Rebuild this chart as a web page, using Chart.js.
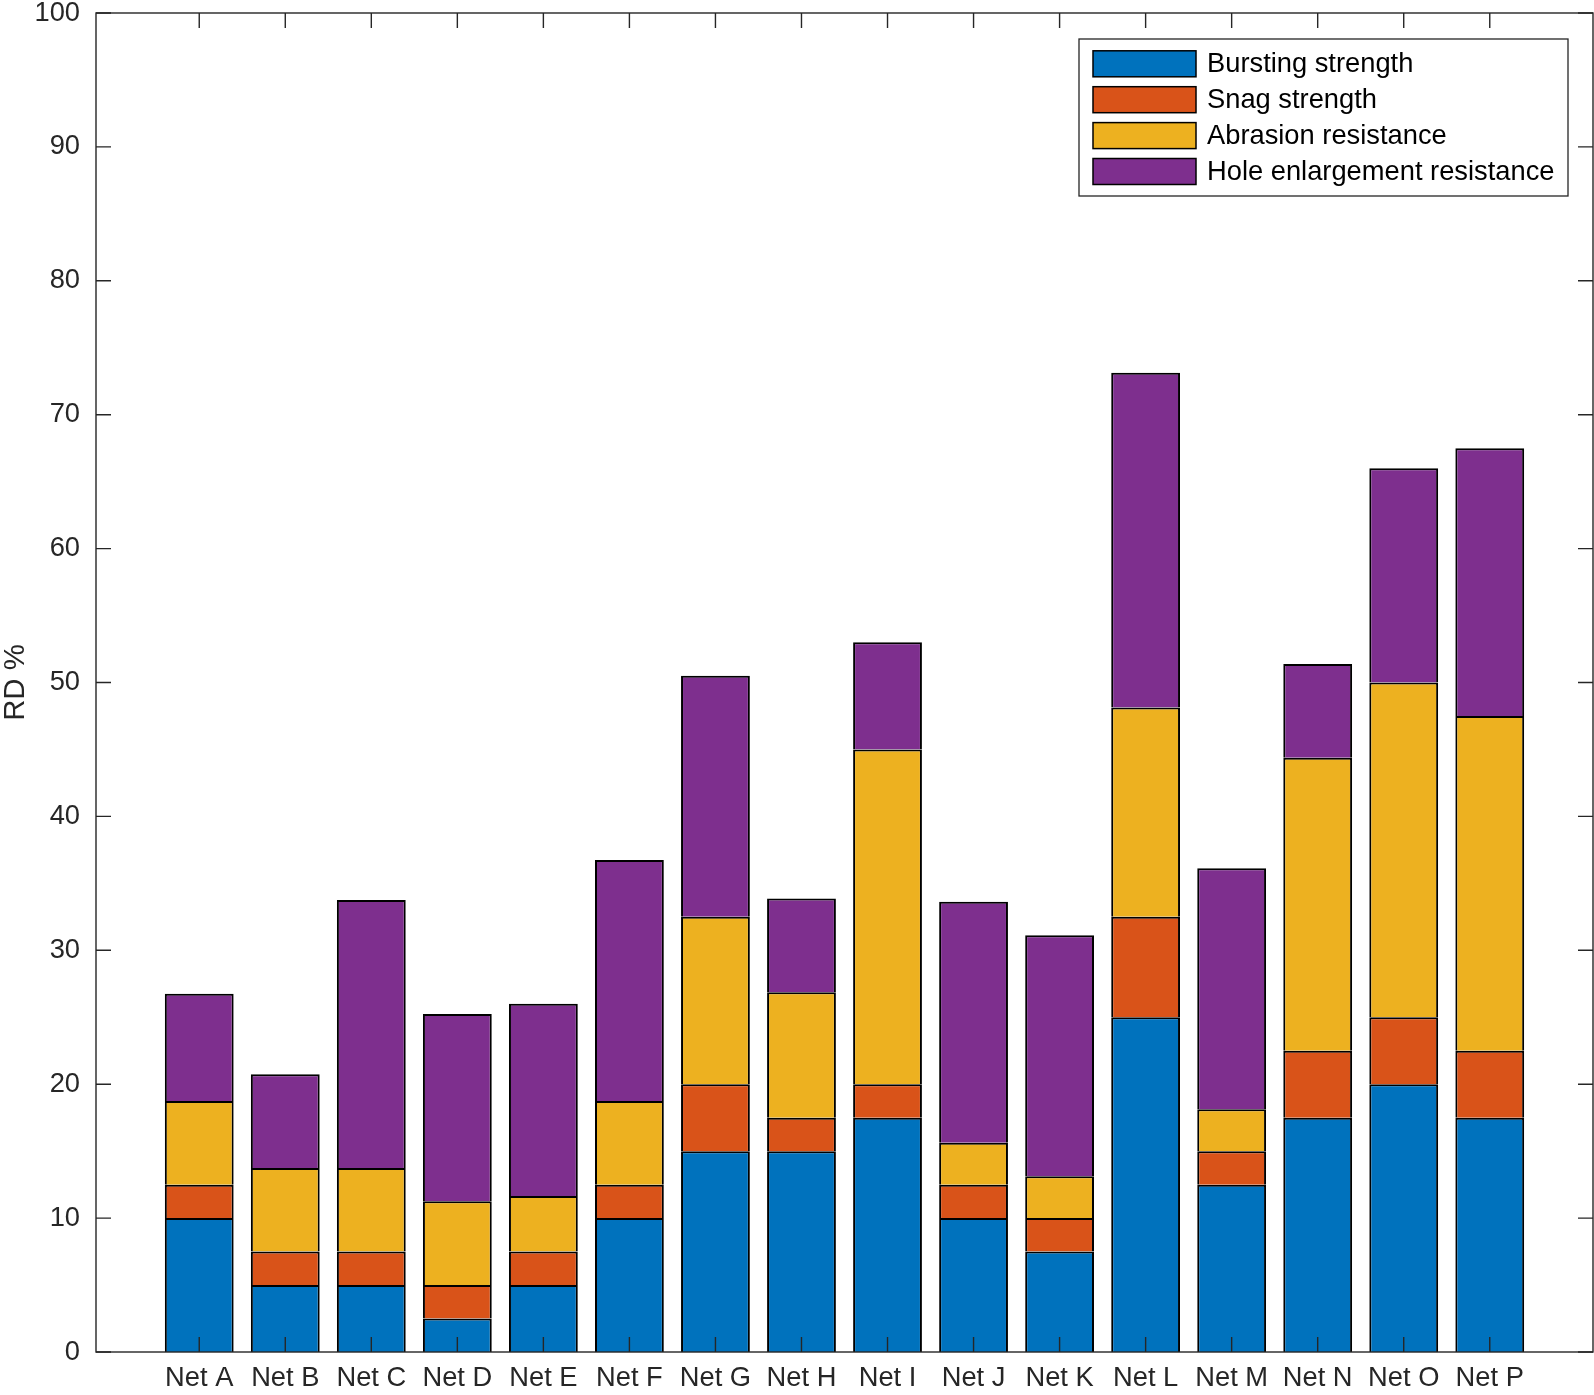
<!DOCTYPE html>
<html>
<head>
<meta charset="utf-8">
<script src="https://cdn.jsdelivr.net/npm/chart.js@4.4.1/dist/chart.umd.min.js"></script>
<style>
  html, body { margin: 0; padding: 0; background: #ffffff; }
  #wrap { width: 1594px; height: 1395px; }
</style>
</head>
<body>
<div id="wrap"><canvas id="c" width="1594" height="1395"></canvas></div>
<script>
const categories = ['Net A','Net B','Net C','Net D','Net E','Net F','Net G','Net H',
                    'Net I','Net J','Net K','Net L','Net M','Net N','Net O','Net P'];
const seriesNames = ['Bursting strength','Snag strength','Abrasion resistance','Hole enlargement resistance'];
const bursting = [10, 5, 5, 2.5, 5, 10, 15, 15, 17.5, 10, 7.5, 25, 12.5, 17.5, 20, 17.5];
const snag = [2.5, 2.5, 2.5, 2.5, 2.5, 2.5, 5, 2.5, 2.5, 2.5, 2.5, 7.5, 2.5, 5, 5, 5];
const abrasion = [6.25, 6.25, 6.25, 6.25, 4.15, 6.25, 12.5, 9.375, 25, 3.125, 3.125, 15.625, 3.125, 21.875, 25, 25];
const holeEnlargement = [8, 7, 20, 14, 14.35, 18, 18, 7, 8, 18, 18, 25, 18, 7, 16, 20];
const yTicks = [0, 10, 20, 30, 40, 50, 60, 70, 80, 90, 100];

const colors = ['#0072BD', '#D95319', '#EDB120', '#7E2F8E'];
const FONT = '"Liberation Sans", Arial, Helvetica, sans-serif';
const AX = '#262626';
const FS = 27.3;

function toPoints(arr) { return arr.map((v, i) => ({ x: i + 1, y: v })); }
const seriesValues = [bursting, snag, abrasion, holeEnlargement];

const datasets = seriesValues.map((vals, k) => ({
  label: seriesNames[k],
  data: toPoints(vals),
  backgroundColor: colors[k],
  borderColor: '#000000',
  borderWidth: 2,
  borderSkipped: 'start',
  categoryPercentage: 1.0,
  barPercentage: 0.8,
  inflateAmount: 0
}));

const boxPlugin = {
  id: 'matlabBox',
  afterDatasetsDraw(chart) {
    const { ctx, chartArea: a, scales: { x, y } } = chart;
    const tl = 15;
    ctx.save();
    ctx.strokeStyle = AX;
    ctx.lineWidth = 1.4;
    ctx.beginPath();
    y.ticks.forEach(t => {
      const py = y.getPixelForValue(t.value);
      ctx.moveTo(a.left, py); ctx.lineTo(a.left + tl, py);
      ctx.moveTo(a.right, py); ctx.lineTo(a.right - tl, py);
    });
    x.ticks.forEach(t => {
      const px = x.getPixelForValue(t.value);
      ctx.moveTo(px, a.bottom); ctx.lineTo(px, a.bottom - tl);
      ctx.moveTo(px, a.top); ctx.lineTo(px, a.top + tl);
    });
    ctx.stroke();
    ctx.strokeRect(a.left, a.top, a.right - a.left, a.bottom - a.top);
    ctx.restore();
  }
};

const legendPlugin = {
  id: 'matlabLegend',
  afterDraw(chart) {
    const { ctx, chartArea: a } = chart;
    const ds = chart.data.datasets;
    const boxRight = a.right - 25, boxTop = a.top + 26;
    const boxW = 489, boxH = 157;
    const boxLeft = boxRight - boxW;
    ctx.save();
    ctx.fillStyle = '#ffffff';
    ctx.fillRect(boxLeft, boxTop, boxW, boxH);
    ctx.strokeStyle = AX;
    ctx.lineWidth = 1.3;
    ctx.strokeRect(boxLeft, boxTop, boxW, boxH);
    ctx.font = FS + 'px ' + FONT;
    ctx.textBaseline = 'middle';
    ctx.textAlign = 'left';
    ds.forEach((d, i) => {
      const cy = boxTop + 24.8 + i * 35.9;
      const sx = boxLeft + 14, sw = 103, sh = 26;
      ctx.fillStyle = d.backgroundColor;
      ctx.fillRect(sx, cy - sh / 2, sw, sh);
      ctx.strokeStyle = '#000000';
      ctx.lineWidth = 1.5;
      ctx.strokeRect(sx, cy - sh / 2, sw, sh);
      ctx.fillStyle = '#000000';
      ctx.fillText(d.label, boxLeft + 128, cy + 1);
    });
    ctx.restore();
  }
};

new Chart(document.getElementById('c'), {
  type: 'bar',
  data: { datasets },
  options: {
    responsive: false,
    devicePixelRatio: 1,
    animation: false,
    layout: { padding: { top: 13, right: 1, left: 0, bottom: 0 } },
    plugins: { legend: { display: false }, tooltip: { enabled: false } },
    scales: {
      x: {
        type: 'linear',
        stacked: true,
        offset: false,
        min: -0.2,
        max: 17.2,
        grid: { display: false, drawTicks: false, offset: false },
        border: { display: false },
        afterBuildTicks(scale) { scale.ticks = categories.map((c, i) => ({ value: i + 1 })); },
        afterFit(scale) { scale.height = 43; scale.paddingLeft = 0; scale.paddingRight = 0; },
        ticks: {
          autoSkip: false,
          maxRotation: 0,
          minRotation: 0,
          padding: 10,
          color: AX,
          font: { family: FONT, size: FS },
          callback: (v) => categories[Math.round(v) - 1]
        }
      },
      y: {
        stacked: true,
        min: 0,
        max: 100,
        grid: { display: false, drawTicks: false },
        border: { display: false },
        afterBuildTicks(scale) { scale.ticks = yTicks.map(v => ({ value: v })); },
        afterFit(scale) { scale.width = 96; scale.paddingTop = 0; scale.paddingBottom = 0; },
        ticks: {
          padding: 16,
          color: AX,
          font: { family: FONT, size: FS },
          callback: (v) => String(v)
        },
        title: {
          display: true,
          text: 'RD %',
          color: AX,
          font: { family: FONT, size: 29.4, lineHeight: 1 },
          padding: { top: 1, bottom: 0 }
        }
      }
    }
  },
  plugins: [boxPlugin, legendPlugin]
});
</script>
</body>
</html>
